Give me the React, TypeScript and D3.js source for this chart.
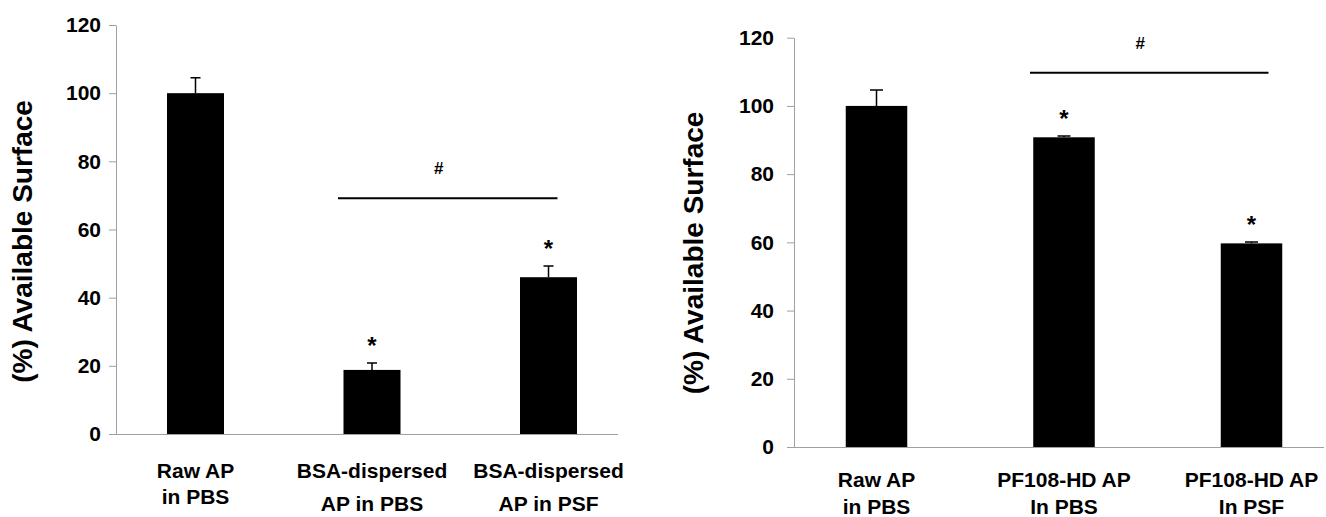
import React from "react";
import * as d3 from "d3";

// left panel: BSA-dispersed
const leftCategories = ["Raw AP|in PBS", "BSA-dispersed|AP in PBS", "BSA-dispersed|AP in PSF"];
const leftValues = [100, 18.8, 46];
const leftErrors = [4.5, 2.0, 3.3];
const leftStars = [false, true, true];

// right panel: PF108-HD
const rightCategories = ["Raw AP|in PBS", "PF108-HD AP|In PBS", "PF108-HD AP|In PSF"];
const rightValues = [100, 90.8, 59.7];
const rightErrors = [4.7, 0.4, 0.4];
const rightStars = [false, true, true];

const yTicks = [0, 20, 40, 60, 80, 100, 120];
const yTitle = "(%) Available Surface";

const FONT = "'Liberation Sans', Arial, sans-serif";

const panels = [
  {
    categories: leftCategories,
    values: leftValues,
    errors: leftErrors,
    stars: leftStars,
    // layout
    yRange: [434, 25],
    axisX: 116,
    tickPad: 8,
    xRange: [107.25, 636.75],
    padInner: 0.677,
    baseline: [110, 618],
    capW: 10,
    label1: 478,
    label2: [504, 511, 511],
    sigY: 69.2,
    sigEndOffset: 9,
    titleX: 32,
    titleY: 241.5,
  },
  {
    categories: rightCategories,
    values: rightValues,
    errors: rightErrors,
    stars: rightStars,
    yRange: [447, 37.7],
    axisX: 794,
    tickPad: 13,
    xRange: [782.75, 1345.25],
    padInner: 0.672,
    baseline: [787, 1324],
    capW: 13,
    label1: 487,
    label2: [514, 514, 514],
    sigY: 109.7,
    sigEndOffset: 17,
    titleX: 703,
    titleY: 253,
  },
];

const App = () => {
  const svg = React.useRef(null);

  React.useEffect(() => {
    const root = d3.select(svg.current);
    root.selectAll("*").remove();
    panels.forEach((p) => drawPanel(root, p));
  }, [svg]);

  return (
    <div style={{ position: "absolute", left: 0, top: 0 }}>
      <svg ref={svg} width={1326} height={517} style={{ display: "block", background: "#fff" }} />
    </div>
  );
};

function drawPanel(root, p) {
  const g = root.append("g");

  const yScale = d3.scaleLinear().domain([0, 120]).range(p.yRange);
  const xScale = d3
    .scaleBand()
    .domain(p.categories)
    .range(p.xRange)
    .paddingInner(p.padInner)
    .paddingOuter(p.padInner / 2);

  // y axis
  const yAxis = d3
    .axisLeft(yScale)
    .tickValues(yTicks)
    .tickSize(7)
    .tickSizeOuter(0)
    .tickPadding(p.tickPad);

  const ax = g
    .append("g")
    .attr("transform", "translate(" + p.axisX + ",0)")
    .call(yAxis);
  ax.select(".domain").attr("stroke", "#a0a0a0");
  ax.selectAll(".tick line").attr("stroke", "#a0a0a0");
  ax.selectAll(".tick text")
    .attr("font-family", FONT)
    .attr("font-weight", "bold")
    .attr("font-size", 21)
    .attr("fill", "#000");

  // bars
  const data = p.categories.map((c, i) => ({
    cat: c,
    value: p.values[i],
    err: p.errors[i],
    star: p.stars[i],
  }));

  g.selectAll(".bar")
    .data(data)
    .enter()
    .append("rect")
    .attr("x", (d) => xScale(d.cat))
    .attr("y", (d) => yScale(d.value))
    .attr("width", xScale.bandwidth())
    .attr("height", (d) => yScale(0) - yScale(d.value))
    .attr("fill", "#000");

  // error bars
  const cx = (d) => xScale(d.cat) + xScale.bandwidth() / 2;
  g.selectAll(".err")
    .data(data)
    .enter()
    .append("path")
    .attr("d", (d) => {
      const top = yScale(d.value + d.err);
      return (
        "M" + cx(d) + "," + yScale(d.value) + "V" + top +
        "M" + (cx(d) - p.capW / 2) + "," + top + "H" + (cx(d) + p.capW / 2)
      );
    })
    .attr("stroke", "#000")
    .attr("stroke-width", 1.5)
    .attr("fill", "none");

  // baseline (x axis)
  g.append("line")
    .attr("x1", p.baseline[0])
    .attr("x2", p.baseline[1])
    .attr("y1", yScale(0) + 0.5)
    .attr("y2", yScale(0) + 0.5)
    .attr("stroke", "#a0a0a0");

  // stars
  g.selectAll(".star")
    .data(data.filter((d) => d.star))
    .enter()
    .append("text")
    .attr("x", cx)
    .attr("y", (d) => yScale(d.value + d.err) - 22 + 13)
    .attr("text-anchor", "middle")
    .attr("font-family", FONT)
    .attr("font-weight", "bold")
    .attr("font-size", 24)
    .text("*");

  // significance line between the treated groups
  const x1 = cx(data[1]) - 34;
  const x2 = cx(data[2]) + p.sigEndOffset;
  const sy = yScale(p.sigY);
  g.append("line")
    .attr("x1", x1)
    .attr("x2", x2)
    .attr("y1", sy)
    .attr("y2", sy)
    .attr("stroke", "#000")
    .attr("stroke-width", 2);
  g.append("text")
    .attr("x", (x1 + x2) / 2 - 9)
    .attr("y", sy - 24)
    .attr("text-anchor", "middle")
    .attr("font-family", FONT)
    .attr("font-weight", "bold")
    .attr("font-size", 17)
    .text("#");

  // category labels (two lines)
  const labels = g
    .selectAll(".cat")
    .data(data)
    .enter()
    .append("text")
    .attr("text-anchor", "middle")
    .attr("font-family", FONT)
    .attr("font-weight", "bold")
    .attr("font-size", 21)
    .attr("fill", "#000");
  labels
    .append("tspan")
    .attr("x", cx)
    .attr("y", p.label1)
    .text((d) => d.cat.split("|")[0]);
  labels
    .append("tspan")
    .attr("x", cx)
    .attr("y", (d, i) => p.label2[i])
    .text((d) => d.cat.split("|")[1]);

  // y title
  g.append("text")
    .attr("transform", "translate(" + p.titleX + "," + p.titleY + ") rotate(-90)")
    .attr("text-anchor", "middle")
    .attr("font-family", FONT)
    .attr("font-weight", "bold")
    .attr("font-size", 28)
    .text(yTitle);
}

export default App;
